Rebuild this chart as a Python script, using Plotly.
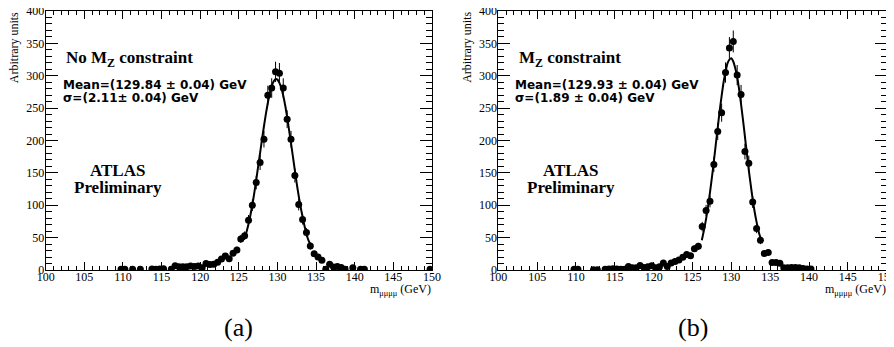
import plotly.graph_objects as go

# ---------------- data ----------------
mass_a = [109.75,110.25,111.25,112.25,113.75,114.25,114.75,115.25,116.25,116.75,117.25,117.75,118.25,118.75,119.25,
          119.75,120.25,120.75,121.25,121.75,122.25,122.75,123.25,123.75,124.25,124.75,125.25,125.75,126.25,126.75,
          127.25,127.75,128.25,128.75,129.25,129.75,130.25,130.75,131.25,131.75,132.25,132.75,133.25,133.75,134.25,
          134.75,135.25,135.75,136.25,136.75,137.25,137.75,138.25,138.75,139.75,140.75,141.25,149.75]
counts_a = [1,1,1,1,1.5,1,1.5,2,1,6.5,5,5,5,6,5.5,6,3.5,10,8.5,9,12,17,21.5,17.5,26,31,48,53,77,100,
            135,166,202,270,281,306,304,281,233,202,146,101,78,58,37,25,20,15,1,9,4.5,5.5,4,1,3.5,1,1,1]
errors_a = [1,1,1,1,1.2,1,1.2,1.3,1,2.3,2,2,2,2.2,2.1,2.2,1.7,2.9,2.6,2.7,3.1,3.7,4.2,3.8,4.6,5,6.2,6.6,7.9,9,
            10.5,11.6,12.8,14.8,15.1,15.7,15.7,15.1,13.7,12.8,10.9,9,7.9,6.9,5.5,4.5,4,3.5,1,2.7,1.9,2.1,1.8,1,1.7,1,1,1]

mass_b = [109.75,110.25,112.25,112.75,113.75,114.25,114.75,115.25,115.75,116.25,116.75,117.25,117.75,118.25,118.75,
          119.25,119.75,120.25,120.75,121.25,121.75,122.25,122.75,123.25,123.75,124.25,124.75,125.25,125.75,126.25,
          126.75,127.25,127.75,128.25,128.75,129.25,129.75,130.25,130.75,131.25,131.75,132.25,132.75,133.25,133.75,
          134.25,134.75,135.25,135.75,136.25,136.75,137.25,137.75,138.25,138.75,139.25,139.75,140.25]
counts_b = [1,1,0.5,0.5,1,1.5,2,1.5,1,1,5.5,3.5,3.5,7,4,5,6.5,3.5,5,11,5.5,11,13,15.5,19.5,24,22,33,36.5,
            67,92,106,163,214,243,305,343,353,301,271,183,165,105,64,46,25.5,27,11.5,11.5,10.5,3.5,3.5,4,4,3.5,2.5,1.5,1.5]
errors_b = [1,1,0.7,0.7,1,1.1,1.3,1.1,1,1,2.1,1.7,1.7,2.4,1.8,2,2.3,1.7,2,3,2.1,3,3.2,3.5,4,4.4,4.2,5.2,5.4,
            7.4,8.6,9.3,11.5,13.2,14,15.7,16.7,16.9,15.6,14.8,12.2,11.6,9.2,7.2,6.1,4.5,4.7,3,3,2.9,1.7,1.7,1.8,1.8,1.7,1.4,1.1,1.1]

fit_a_x = [125.4,125.75,126.0,126.25,126.5,126.75,127.0,127.25,127.5,127.75,128.0,128.25,128.5,128.75,129.0,129.25,
           129.5,129.75,130.0,130.25,130.5,130.75,131.0,131.25,131.5,131.75,132.0,132.25,132.5,132.75,133.0,133.25,
           133.5,133.75,134.0,134.35]
fit_a_y = [44,50,59,71,85,101,119,139,160,181,202,222,241,258,273,284,291,295,294,289,281,269,254,236,216,196,
           175,154,133,114,97,82,68,56,46,37]

fit_b_x = [126.2,126.5,126.75,127.0,127.25,127.5,127.75,128.0,128.25,128.5,128.75,129.0,129.25,129.5,129.75,130.0,
           130.25,130.5,130.75,131.0,131.25,131.5,131.75,132.0,132.25,132.5,132.75,133.0,133.25,133.5,133.75,133.95]
fit_b_y = [46,63,79,98,120,143,168,194,220,246,269,290,306,319,325,327,322,312,298,279,256,232,206,180,154,131,
           109,90,74,60,50,44]

titles = ["No M<sub>Z</sub> constraint", "M<sub>Z</sub> constraint"]
mean_txt = ["Mean=(129.84 \u00b1 0.04) GeV", "Mean=(129.93 \u00b1 0.04) GeV"]
sigma_txt = ["\u03c3=(2.11\u00b1 0.04) GeV", "\u03c3=(1.89 \u00b1 0.04) GeV"]
panel_labels = ["(a)", "(b)"]

# ---------------- figure ----------------
SERIF = "Liberation Serif, Times New Roman, Times, serif"
SANS = "DejaVu Sans, sans-serif"
OFF = 8                      # page body margin of the html page
W, H = 894 - OFF, 347 - OFF  # figure size so the figure fills the window


def px_x(x):   # reference pixel -> paper fraction
    return (x - OFF) / W


def px_y(y):
    return 1 - (y - OFF) / H


fig = go.Figure()

panels = [(mass_a, counts_a, errors_a, fit_a_x, fit_a_y, "x", "y"),
          (mass_b, counts_b, errors_b, fit_b_x, fit_b_y, "x2", "y2")]
for m, c, e, fx, fy, xa, ya in panels:
    fig.add_trace(go.Scatter(x=fx, y=fy, mode="lines", line=dict(color="black", width=2, shape="spline", smoothing=0.6),
                             xaxis=xa, yaxis=ya, showlegend=False, hoverinfo="skip"))
    fig.add_trace(go.Scatter(x=m, y=c, mode="markers",
                             marker=dict(color="black", size=7, symbol="circle"),
                             error_y=dict(type="data", array=e, color="black", thickness=1, width=0),
                             xaxis=xa, yaxis=ya, showlegend=False))


def xax(dom, anchor):
    return dict(domain=dom, anchor=anchor, range=[100, 150], tick0=100, dtick=5,
                ticks="inside", ticklen=8, tickwidth=1, tickcolor="black",
                showline=True, linecolor="black", linewidth=1, mirror="ticks",
                showgrid=False, zeroline=False, automargin=False,
                ticklabeloverflow="allow", ticklabelstandoff=-4,
                tickfont=dict(family=SERIF, size=12, color="black"),
                minor=dict(dtick=1, ticks="inside", ticklen=4, tickcolor="black", showgrid=False))


def yax(dom, anchor):
    return dict(domain=dom, anchor=anchor, range=[0, 400], tick0=0, dtick=50,
                ticks="inside", ticklen=12, tickwidth=1, tickcolor="black",
                showline=True, linecolor="black", linewidth=1, mirror="ticks",
                showgrid=False, zeroline=False, automargin=False,
                ticklabeloverflow="allow", ticklabelstandoff=-2,
                tickfont=dict(family=SERIF, size=12, color="black"),
                minor=dict(dtick=10, ticks="inside", ticklen=6, tickcolor="black", showgrid=False))


top_px, bot_px = 11, 270
left_a, right_a = 45.7, 432.0
left_b, right_b = 498.3, 886.7
ydom = [px_y(bot_px), px_y(top_px)]
fig.update_layout(
    width=W, height=H, margin=dict(l=0, r=0, t=0, b=0, pad=0),
    paper_bgcolor="white", plot_bgcolor="white", showlegend=False,
    xaxis=xax([px_x(left_a), px_x(right_a)], "y"),
    yaxis=yax(ydom, "x"),
    xaxis2=xax([px_x(left_b), px_x(right_b)], "y2"),
    yaxis2=yax(ydom, "x2"),
)

ann = []
for i, (xr, yr, left, right) in enumerate([("x", "y", left_a, right_a), ("x2", "y2", left_b, right_b)]):
    ann.append(dict(text="<b>" + titles[i] + "</b>", xref=xr, yref=yr, x=102.4, y=326, xanchor="left", yanchor="middle",
                    showarrow=False, font=dict(family=SERIF, size=17, color="black")))
    ann.append(dict(text="<b>" + mean_txt[i] + "</b>", xref=xr, yref=yr, x=101.95, y=286, xanchor="left", yanchor="middle",
                    showarrow=False, font=dict(family=SANS, size=12, color="black")))
    ann.append(dict(text="<b>" + sigma_txt[i] + "</b>", xref=xr, yref=yr, x=101.95, y=265, xanchor="left", yanchor="middle",
                    showarrow=False, font=dict(family=SANS, size=12, color="black")))
    ann.append(dict(text="<b>ATLAS</b>", xref=xr, yref=yr, x=109.35, y=154, xanchor="center", yanchor="middle",
                    showarrow=False, font=dict(family=SERIF, size=17, color="black")))
    ann.append(dict(text="<b>Preliminary</b>", xref=xr, yref=yr, x=109.35, y=128, xanchor="center", yanchor="middle",
                    showarrow=False, font=dict(family=SERIF, size=17, color="black")))
    # axis titles
    ann.append(dict(text="Arbitrary units", xref="paper", yref="paper", x=px_x(left - 31), y=px_y(10),
                    xanchor="center", yanchor="top", textangle=-90, showarrow=False,
                    font=dict(family=SERIF, size=12, color="black")))
    ann.append(dict(text="m<sub>\u03bc\u03bc\u03bc\u03bc</sub> (GeV)", xref="paper", yref="paper", x=px_x(right + 1), y=px_y(290),
                    xanchor="right", yanchor="middle", showarrow=False,
                    font=dict(family=SERIF, size=12, color="black")))
    ann.append(dict(text=panel_labels[i], xref="paper", yref="paper", x=px_x((left + right) / 2), y=px_y(327),
                    xanchor="center", yanchor="middle", showarrow=False,
                    font=dict(family=SERIF, size=26, color="black")))
fig.update_layout(annotations=ann)

fig.write_html("out.html")
